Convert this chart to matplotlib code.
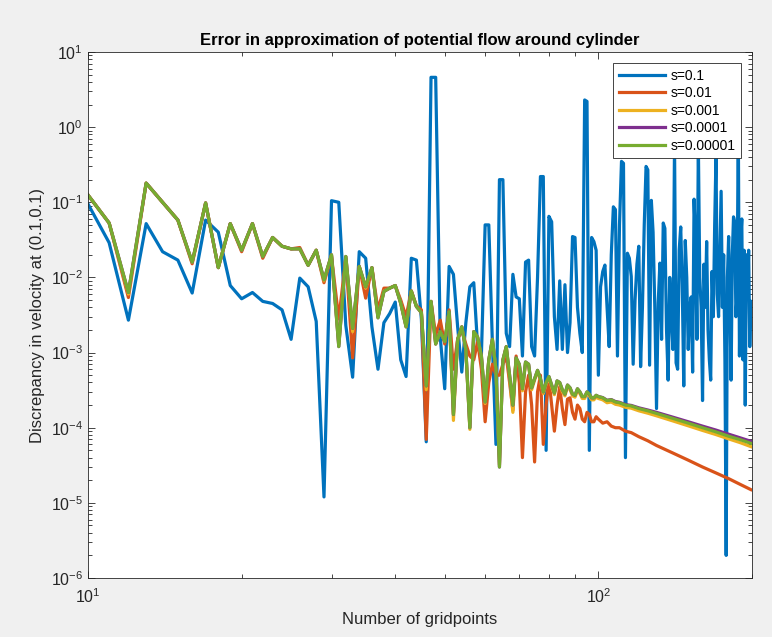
import matplotlib
matplotlib.use('Agg')
import matplotlib.pyplot as plt
from matplotlib.ticker import LogLocator, NullFormatter

plt.rcParams['font.family'] = ['Liberation Sans', 'DejaVu Sans']
plt.rcParams['mathtext.default'] = 'regular'

# gridpoint counts
n_all = list(range(10, 200))
n_head = list(range(10, 101))
n_tail = [102, 104, 106, 108, 110, 113, 116, 120, 125, 130, 140, 150, 160, 170, 180, 190, 199]

# s=0.1, every gridpoint 10..199
v_s1 = [0.095, 0.029, 0.0027, 0.052, 0.022, 0.017, 0.0062, 0.058, 0.04, 0.0078,
        0.0052, 0.0063, 0.0048, 0.0045, 0.0037, 0.0015, 0.0098, 0.0075, 0.0026, 1.2e-5,
        0.105, 0.10, 0.0023, 4.7e-4, 0.022, 0.018, 0.0022, 6e-4, 0.0025, 0.0033,
        0.0047, 8e-4, 4.8e-4, 0.018, 0.017, 0.0028, 6.5e-5, 4.6, 4.6, 0.0016,
        3.3e-4, 0.014, 0.011, 0.0022, 5.5e-4, 0.0025, 0.0075, 0.0085, 0.0012, 9.5e-4,
        0.05, 0.05, 0.0013, 6e-5, 0.2, 0.2, 0.0018, 0.0012, 0.011, 0.0055,
        0.0052, 9e-4, 0.016, 0.017, 0.0012, 9e-4, 0.01, 0.22, 0.22, 5e-5,
        0.065, 0.055, 0.003, 0.0011, 0.009, 0.0011, 0.008, 0.001, 0.0025, 0.035,
        0.034, 0.004, 0.0018, 0.001, 2.3, 2.2, 5e-5, 0.034, 0.03, 0.023,
        5e-4, 0.0075, 0.012, 0.0146, 0.004, 0.0012, 0.02, 0.087, 0.08, 9e-4,
        0.05, 0.35, 0.33, 4e-5, 0.021, 0.018, 0.0103, 7e-4, 0.005, 0.015,
        0.026, 6.5e-4, 0.004, 0.05, 0.3, 0.27, 6.8e-4, 0.106, 0.04, 0.004,
        1.8e-4, 0.0046, 0.0155, 0.0015, 0.053, 0.045, 0.002, 4.3e-4, 0.01, 0.003,
        0.0011, 0.6, 7.3e-4, 6e-4, 0.023, 0.047, 0.008, 3.6e-4, 0.031, 0.01,
        0.0011, 0.004, 0.0055, 5.5e-4, 0.11, 0.03, 0.0015, 0.6, 0.01, 0.004,
        2.3e-4, 0.015, 0.004, 0.03, 0.002, 8e-4, 4.3e-4, 0.012, 0.003, 0.05,
        0.4, 0.006, 0.003, 0.02, 0.14, 0.004, 0.02, 8e-4, 2e-6, 0.01,
        0.035, 0.005, 4.3e-4, 0.02, 0.064, 0.055, 0.003, 0.006, 1.15, 9e-4,
        0.03, 0.06, 8e-4, 0.023, 2e-4, 0.02, 0.006, 0.023, 0.0012, 0.0048]

# s=0.01
v_s2_head = [0.125, 0.053, 0.0054, 0.18, 0.10, 0.058, 0.0152, 0.098, 0.0135, 0.052,
             0.022, 0.052, 0.018, 0.034, 0.026, 0.024, 0.025, 0.0145, 0.023, 0.0085,
             0.019, 0.0028, 0.018, 8.5e-4, 0.014, 0.0053, 0.0135, 0.0037, 0.0072, 0.0072,
             0.0078, 0.005, 0.003, 0.0066, 0.0042, 0.0037, 7e-5, 0.0048, 0.0017, 0.0027,
             0.0013, 0.0037, 6e-4, 0.0015, 0.002, 0.0013, 9e-4, 8e-4, 0.0014, 6e-4,
             1.2e-4, 4e-4, 7e-4, 5e-4, 5e-4, 7e-4, 9e-4, 4e-4, 1.7e-4, 9e-4,
             4e-4, 4e-5, 3e-4, 5e-4, 2e-4, 3.5e-5, 3e-4, 5e-4, 6e-5, 2e-4,
             4.5e-4, 2e-4, 9e-5, 2e-4, 3.5e-4, 1.8e-4, 1.1e-4, 2.4e-4, 2.5e-4, 1.6e-4,
             1.3e-4, 2e-4, 1.8e-4, 1.3e-4, 1.2e-4, 1.6e-4, 1.5e-4, 1.2e-4, 1.2e-4, 1.4e-4,
             1.3e-4]
v_s2_tail = [1.15e-4, 1.2e-4, 1.05e-4, 1.0e-4, 1.0e-4, 9e-5, 8.6e-5, 7.6e-5, 6.7e-5,
             5.8e-5, 4.6e-5, 3.7e-5, 3.0e-5, 2.5e-5, 2.1e-5, 1.75e-5, 1.5e-5]

# s=0.001
v_s3_head = [0.125, 0.053, 0.006, 0.18, 0.10, 0.058, 0.0158, 0.098, 0.0135, 0.052,
             0.023, 0.052, 0.019, 0.034, 0.026, 0.024, 0.024, 0.0145, 0.023, 0.009,
             0.020, 0.0013, 0.019, 0.0019, 0.014, 0.0072, 0.0135, 0.003, 0.0066, 0.0072,
             0.0078, 0.0046, 0.0022, 0.0066, 0.0041, 0.0034, 3.2e-4, 0.0048, 0.0013, 0.0019,
             0.0014, 0.0035, 1.25e-4, 0.0015, 0.0022, 0.0011, 9.5e-5, 0.0019, 0.0016, 8.5e-4,
             2.1e-4, 8e-4, 0.0015, 5.8e-4, 3.2e-5, 7.8e-4, 0.0012, 4.6e-4, 1.6e-4, 8.3e-4,
             6.8e-4, 3.1e-4, 7.3e-4, 6.8e-4, 3.2e-4, 4.3e-4, 5.6e-4, 4.3e-4, 2.85e-4, 3.8e-4,
             4.6e-4, 3.5e-4, 2.75e-4, 4e-4, 3.8e-4, 3e-4, 2.65e-4, 3.5e-4, 3.2e-4, 2.65e-4,
             2.55e-4, 3.1e-4, 2.85e-4, 2.45e-4, 2.45e-4, 2.85e-4, 2.65e-4, 2.35e-4, 2.35e-4, 2.55e-4,
             2.45e-4]
v_s3_tail = [2.35e-4, 2.15e-4, 2.2e-4, 2.05e-4, 2.0e-4, 1.87e-4, 1.82e-4, 1.68e-4, 1.56e-4,
             1.44e-4, 1.23e-4, 1.06e-4, 9.2e-5, 8.1e-5, 7.1e-5, 6.3e-5, 5.6e-5]

# s=0.00001 (s=0.0001 sits on top of it up to N=100)
v_s5_head = [0.125, 0.053, 0.0063, 0.18, 0.10, 0.058, 0.016, 0.098, 0.0135, 0.052,
             0.023, 0.052, 0.019, 0.034, 0.026, 0.024, 0.024, 0.0145, 0.023, 0.0093,
             0.020, 0.0012, 0.019, 0.0021, 0.014, 0.0075, 0.0135, 0.0029, 0.0065, 0.0072,
             0.0078, 0.0045, 0.0022, 0.0066, 0.0041, 0.0034, 3.6e-4, 0.0048, 0.0013, 0.0019,
             0.0014, 0.0035, 1.5e-4, 0.0015, 0.0022, 0.0011, 1e-4, 0.0019, 0.0016, 9e-4,
             2.2e-4, 8e-4, 0.0015, 6e-4, 3e-5, 8e-4, 0.0012, 5e-4, 2e-4, 8.5e-4,
             7e-4, 3.3e-4, 7.5e-4, 7e-4, 3.4e-4, 4.5e-4, 5.8e-4, 4.5e-4, 3e-4, 4e-4,
             4.8e-4, 3.7e-4, 2.9e-4, 4.2e-4, 4e-4, 3.2e-4, 2.8e-4, 3.7e-4, 3.4e-4, 2.8e-4,
             2.7e-4, 3.3e-4, 3e-4, 2.6e-4, 2.6e-4, 3e-4, 2.8e-4, 2.5e-4, 2.5e-4, 2.7e-4,
             2.6e-4]
v_s5_tail = [2.5e-4, 2.3e-4, 2.35e-4, 2.2e-4, 2.15e-4, 2.0e-4, 1.95e-4, 1.8e-4, 1.68e-4,
             1.55e-4, 1.33e-4, 1.15e-4, 1.0e-4, 8.8e-5, 7.7e-5, 6.9e-5, 6.2e-5]
v_s4_tail = [2.52e-4, 2.32e-4, 2.37e-4, 2.23e-4, 2.18e-4, 2.03e-4, 1.98e-4, 1.84e-4, 1.72e-4,
             1.6e-4, 1.38e-4, 1.2e-4, 1.05e-4, 9.3e-5, 8.2e-5, 7.3e-5, 6.6e-5]

labels = ['s=0.1', 's=0.01', 's=0.001', 's=0.0001', 's=0.00001']
colors = ['#0072BD', '#D95319', '#EDB120', '#7E2F8E', '#77AC30']

fig = plt.figure(figsize=(7.72, 6.37), dpi=100, facecolor='#f0f0f0')
ax = fig.add_axes([88/772, 59/637, 664/772, 526/637])

n_long = n_head + n_tail
lw = 2.3
ax.plot(n_all, v_s1, color=colors[0], lw=lw, label=labels[0])
ax.plot(n_long, v_s2_head + v_s2_tail, color=colors[1], lw=lw, label=labels[1])
ax.plot(n_long, v_s3_head + v_s3_tail, color=colors[2], lw=lw, label=labels[2])
ax.plot(n_long, v_s5_head + v_s4_tail, color=colors[3], lw=lw, label=labels[3])
ax.plot(n_long, v_s5_head + v_s5_tail, color=colors[4], lw=lw, label=labels[4])

ax.set_xscale('log')
ax.set_yscale('log')
ax.set_xlim(10, 200)
ax.set_ylim(1e-6, 10)
ax.yaxis.set_major_locator(LogLocator(base=10, numticks=20))
ax.yaxis.set_minor_locator(LogLocator(base=10, subs=range(2, 10), numticks=20))
ax.yaxis.set_minor_formatter(NullFormatter())
ax.xaxis.set_minor_formatter(NullFormatter())

dark = '#262626'
ax.tick_params(which='both', direction='in', top=True, right=True, color=dark,
               labelcolor=dark, labelsize=11.5, width=0.6)
ax.tick_params(which='major', length=5)
ax.tick_params(which='minor', length=3)
ax.tick_params(axis='x', which='major', pad=7)
for sp in ax.spines.values():
    sp.set_color(dark)
    sp.set_linewidth(0.6)

ax.set_title('Error in approximation of potential flow around cylinder',
             fontsize=12, fontweight='bold', pad=5)
ax.set_xlabel('Number of gridpoints', fontsize=12, color=dark, labelpad=4)
ax.set_ylabel('Discrepancy in velocity at (0.1,0.1)', fontsize=12, color=dark, labelpad=4)

leg = ax.legend(loc='upper right', fontsize=10, handlelength=3.3, handletextpad=0.4,
                fancybox=False, edgecolor=dark, framealpha=1, borderaxespad=0.8,
                labelspacing=0.25, borderpad=0.4)
leg.get_frame().set_linewidth(0.6)

plt.savefig('out.png', dpi=100, facecolor=fig.get_facecolor())
